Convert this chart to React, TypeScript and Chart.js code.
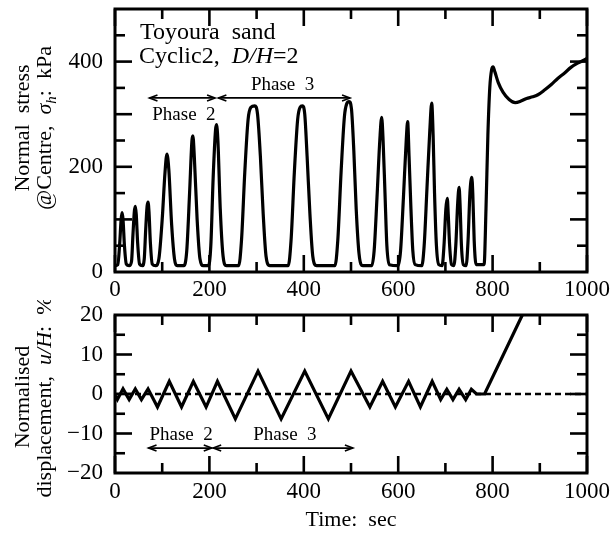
import React, { useEffect, useRef } from 'react';
import { Chart, registerables } from 'chart.js';
Chart.register(...registerables);

// ---------- data ----------
const stressTime = [0, 6, 10, 13, 15, 17, 20, 24, 30, 35, 38, 41, 43, 45, 48, 52, 58, 62, 65, 68, 70, 72, 75, 79, 86, 93, 100, 106, 110, 114, 120, 126, 132, 146, 152, 158, 163, 165, 168, 174, 180, 187, 198, 203, 208, 213, 215, 218, 223, 229, 236, 262, 268, 275, 282, 288, 296, 302, 308, 314, 320, 328, 367, 373, 380, 387, 392, 397, 402, 407, 413, 419, 427, 466, 472, 479, 486, 491, 496, 501, 506, 511, 517, 525, 544, 549, 555, 561, 565, 568, 572, 576, 581, 600, 605, 611, 617, 620, 623, 627, 631, 636, 650, 655, 661, 667, 671, 674, 677, 681, 686, 693, 697, 701, 704, 706, 709, 713, 718, 722, 726, 729, 731, 734, 738, 744, 748, 752, 756, 758, 761, 765, 782, 786, 790, 794, 798, 801, 805, 812, 822, 835, 848, 860, 872, 885, 896, 910, 925, 938, 952, 966, 980, 992, 1000];
const stressValue = [12, 14, 55, 100, 113, 100, 50, 15, 12, 20, 70, 115, 125, 110, 55, 15, 12, 25, 80, 125, 133, 115, 55, 15, 12, 25, 100, 190, 224, 195, 90, 25, 12, 12, 40, 150, 250, 259, 220, 100, 25, 12, 12, 50, 180, 270, 280, 250, 120, 30, 12, 12, 60, 190, 290, 313, 316, 300, 220, 110, 30, 12, 12, 60, 190, 290, 313, 316, 300, 220, 110, 30, 12, 12, 60, 190, 295, 320, 324, 310, 230, 120, 35, 12, 12, 40, 140, 250, 294, 250, 150, 50, 14, 12, 40, 140, 250, 286, 220, 120, 40, 14, 12, 50, 160, 270, 321, 260, 150, 50, 14, 12, 50, 120, 140, 110, 50, 14, 12, 50, 130, 161, 130, 50, 14, 12, 60, 150, 180, 150, 60, 14, 14, 120, 260, 350, 385, 390, 380, 360, 342, 328, 322, 325, 330, 333, 337, 346, 357, 368, 378, 389, 397, 402, 406];

const dispTime = [0, 5, 17, 30, 43, 56, 70, 90, 115, 141, 166, 193, 217, 255, 303, 352, 402, 452, 500, 540, 567, 594, 622, 647, 672, 690, 703, 716, 729, 743, 755, 766, 783, 863];
const dispValue = [-0.3, -1.4, 1.3, -1.4, 1.3, -1.4, 1.3, -3.3, 3.2, -3.3, 3.2, -3.3, 3.2, -6.3, 5.8, -6.3, 5.8, -6.3, 5.8, -3.3, 3.2, -3.3, 3.2, -3.3, 3.2, -1.4, 1.2, -1.4, 1.2, -1.4, 1.2, 0, 0, 20];

const zeroLineTime = [0, 1000];
const zeroLineValue = [0, 0];

const xTickLabels = [0, 200, 400, 600, 800, 1000];
const xMinorTicks = [100, 300, 500, 700, 900];
const stressTickLabels = [0, 200, 400];
const stressMajorTicks = [100, 200, 300, 400];
const stressMinorTicks = [50, 150, 250, 350, 450];
const dispTickLabels = [-20, -10, 0, 10, 20];
const dispMajorTicks = [-10, 0, 10];
const dispMinorTicks = [-15, -5, 5, 15];

// annotation anchors (data coordinates)
const topPhaseArrows = [
  { from: 73, to: 212, y: 331 },
  { from: 219, to: 498, y: 331 },
];
const topPhaseTexts = [
  { text: 'Phase  2', x: 146, y: 289 },
  { text: 'Phase  3', x: 355, y: 346 },
];
const bottomPhaseArrows = [
  { from: 71, to: 205, y: -13.7 },
  { from: 208, to: 504, y: -13.7 },
];
const bottomPhaseTexts = [
  { text: 'Phase  2', x: 140, y: -11.6 },
  { text: 'Phase  3', x: 360, y: -11.6 },
];

const FONT = '"Liberation Serif", "Times New Roman", serif';

type Seg = { t: string; i?: boolean; sub?: boolean };

function drawRich(ctx: CanvasRenderingContext2D, segs: Seg[], x: number, y: number, size: number, rot: number, align: 'center' | 'left') {
  ctx.save();
  ctx.translate(x, y);
  if (rot) ctx.rotate(rot);
  const fontFor = (s: Seg) => `${s.i ? 'italic ' : ''}${s.sub ? Math.round(size * 0.68) : size}px ${FONT}`;
  let total = 0;
  for (const s of segs) {
    ctx.font = fontFor(s);
    total += ctx.measureText(s.t).width;
  }
  let cx = align === 'center' ? -total / 2 : 0;
  ctx.textBaseline = 'alphabetic';
  ctx.fillStyle = '#000';
  for (const s of segs) {
    ctx.font = fontFor(s);
    ctx.fillText(s.t, cx, s.sub ? size * 0.22 : 0);
    cx += ctx.measureText(s.t).width;
  }
  ctx.restore();
}

function arrow(ctx: CanvasRenderingContext2D, x1: number, x2: number, y: number) {
  ctx.beginPath();
  ctx.moveTo(x1, y);
  ctx.lineTo(x2, y);
  ctx.stroke();
  const h = 8, w = 3;
  ctx.beginPath();
  ctx.moveTo(x1 + h, y - w);
  ctx.lineTo(x1, y);
  ctx.lineTo(x1 + h, y + w);
  ctx.moveTo(x2 - h, y - w);
  ctx.lineTo(x2, y);
  ctx.lineTo(x2 - h, y + w);
  ctx.stroke();
}

type DecorCfg = {
  xMajor: number[];
  xMinor: number[];
  yMajor: number[];
  yMinor: number[];
  arrows: { from: number; to: number; y: number }[];
  texts: { text: string; x: number; y: number }[];
  extra: (chart: any) => void;
};

function makeDecor(cfg: DecorCfg) {
  return {
    id: 'decor',
    afterDraw(chart: any) {
      const ctx: CanvasRenderingContext2D = chart.ctx;
      const { left, right, top, bottom } = chart.chartArea;
      const xs = chart.scales.x;
      const ys = chart.scales.y;
      const MAJ = 17, MIN = 10;
      ctx.save();
      ctx.strokeStyle = '#000';
      ctx.lineWidth = 2.6;
      ctx.lineCap = 'butt';
      const seg = (a: number, b: number, c: number, d: number) => {
        ctx.beginPath();
        ctx.moveTo(a, b);
        ctx.lineTo(c, d);
        ctx.stroke();
      };
      cfg.xMajor.forEach((v) => {
        const p = xs.getPixelForValue(v);
        seg(p, bottom, p, bottom - MAJ);
        seg(p, top, p, top + MAJ);
      });
      cfg.xMinor.forEach((v) => {
        const p = xs.getPixelForValue(v);
        seg(p, bottom, p, bottom - MIN);
        seg(p, top, p, top + MIN);
      });
      cfg.yMajor.forEach((v) => {
        const p = ys.getPixelForValue(v);
        seg(left, p, left + MAJ, p);
        seg(right, p, right - MAJ, p);
      });
      cfg.yMinor.forEach((v) => {
        const p = ys.getPixelForValue(v);
        seg(left, p, left + MIN, p);
        seg(right, p, right - MIN, p);
      });
      ctx.lineWidth = 3;
      ctx.strokeRect(left, top, right - left, bottom - top);

      ctx.lineWidth = 1.6;
      cfg.arrows.forEach((a) => {
        arrow(ctx, xs.getPixelForValue(a.from), xs.getPixelForValue(a.to), ys.getPixelForValue(a.y));
      });
      cfg.texts.forEach((t) => {
        drawRich(ctx, [{ t: t.text }], xs.getPixelForValue(t.x), ys.getPixelForValue(t.y), 19, 0, 'center');
      });
      cfg.extra(chart);
      ctx.restore();
    },
  };
}

function baseOptions(yMin: number, yMax: number, yTicks: number[], padTop: number, xAxisH: number, xPad: number) {
  return {
    responsive: false,
    animation: false as const,
    layout: { padding: { left: 0, right: 28, top: padTop, bottom: 0 } },
    plugins: { legend: { display: false }, tooltip: { enabled: false } },
    elements: { point: { radius: 0 } },
    scales: {
      x: {
        type: 'linear' as const,
        min: 0,
        max: 1000,
        grid: { display: false, drawTicks: false },
        border: { display: false },
        afterBuildTicks: (s: any) => {
          s.ticks = xTickLabels.map((v) => ({ value: v }));
        },
        afterFit: (s: any) => {
          s.height = xAxisH;
          s.paddingLeft = 0;
          s.paddingRight = 0;
          s.paddingTop = 0;
          s.paddingBottom = 0;
        },
        ticks: {
          color: '#000',
          padding: xPad,
          maxRotation: 0,
          autoSkip: false,
          font: { family: FONT, size: 23 },
          callback: (v: any) => String(v),
        },
      },
      y: {
        type: 'linear' as const,
        min: yMin,
        max: yMax,
        grid: { display: false, drawTicks: false },
        border: { display: false },
        afterBuildTicks: (s: any) => {
          s.ticks = yTicks.map((v) => ({ value: v }));
        },
        afterFit: (s: any) => {
          s.width = 115;
          s.paddingLeft = 0;
          s.paddingRight = 0;
          s.paddingTop = 0;
          s.paddingBottom = 0;
        },
        ticks: {
          color: '#000',
          padding: 12,
          autoSkip: false,
          font: { family: FONT, size: 23 },
          callback: (v: any) => (v < 0 ? '\u2212' + Math.abs(v) : String(v)),
        },
      },
    },
  };
}

export default function App() {
  const topRef = useRef<HTMLCanvasElement>(null);
  const botRef = useRef<HTMLCanvasElement>(null);

  useEffect(() => {
    const stressData = stressTime.map((t, i) => ({ x: t, y: stressValue[i] }));
    const dispData = dispTime.map((t, i) => ({ x: t, y: dispValue[i] }));
    const zeroData = zeroLineTime.map((t, i) => ({ x: t, y: zeroLineValue[i] }));

    const topChart = new Chart(topRef.current as HTMLCanvasElement, {
      type: 'line',
      data: {
        datasets: [
          {
            data: stressData,
            borderColor: '#000',
            borderWidth: 3.2,
            cubicInterpolationMode: 'monotone',
            borderJoinStyle: 'round',
            fill: false,
          },
        ],
      },
      options: baseOptions(0, 500, stressTickLabels, 9, 28, 4) as any,
      plugins: [
        makeDecor({
          xMajor: xTickLabels,
          xMinor: xMinorTicks,
          yMajor: stressMajorTicks,
          yMinor: stressMinorTicks,
          arrows: topPhaseArrows,
          texts: topPhaseTexts,
          extra: (chart: any) => {
            const ctx = chart.ctx as CanvasRenderingContext2D;
            const left = chart.chartArea.left;
            drawRich(ctx, [{ t: 'Toyoura  sand' }], left + 25, 39, 24, 0, 'left');
            drawRich(ctx, [{ t: 'Cyclic2,  ' }, { t: 'D/H', i: true }, { t: '=2' }], left + 24, 63, 24, 0, 'left');
            const cy = 128;
            drawRich(ctx, [{ t: 'Normal  stress' }], 29, cy, 22, -Math.PI / 2, 'center');
            drawRich(
              ctx,
              [{ t: '@Centre,  ' }, { t: '\u03c3', i: true }, { t: 'h', i: true, sub: true }, { t: ':  kPa' }],
              51,
              cy,
              22,
              -Math.PI / 2,
              'center'
            );
          },
        }),
      ],
    });

    const botChart = new Chart(botRef.current as HTMLCanvasElement, {
      type: 'line',
      data: {
        datasets: [
          {
            data: zeroData,
            borderColor: '#000',
            borderWidth: 2.4,
            borderDash: [6, 4],
            fill: false,
          },
          {
            data: dispData,
            borderColor: '#000',
            borderWidth: 3.2,
            borderJoinStyle: 'miter',
            fill: false,
          },
        ],
      },
      options: baseOptions(-20, 20, dispTickLabels, 15, 65, 5) as any,
      plugins: [
        makeDecor({
          xMajor: xTickLabels,
          xMinor: xMinorTicks,
          yMajor: dispMajorTicks,
          yMinor: dispMinorTicks,
          arrows: bottomPhaseArrows,
          texts: bottomPhaseTexts,
          extra: (chart: any) => {
            const ctx = chart.ctx as CanvasRenderingContext2D;
            const cy = 97;
            drawRich(ctx, [{ t: 'Normalised' }], 29, cy, 22, -Math.PI / 2, 'center');
            drawRich(
              ctx,
              [{ t: 'displacement,  ' }, { t: 'u/H', i: true }, { t: ':  %' }],
              51,
              cy,
              22,
              -Math.PI / 2,
              'center'
            );
            const { left, right } = chart.chartArea;
            drawRich(ctx, [{ t: 'Time:  sec' }], (left + right) / 2, 226, 22, 0, 'center');
          },
        }),
      ],
    });

    return () => {
      topChart.destroy();
      botChart.destroy();
    };
  }, []);

  return (
    <div style={{ position: 'absolute', left: 0, top: 0, width: 615, height: 538, background: '#fff' }}>
      <canvas ref={topRef} width={615} height={300} style={{ position: 'absolute', left: 0, top: 0, width: 615, height: 300 }} />
      <canvas ref={botRef} width={615} height={238} style={{ position: 'absolute', left: 0, top: 300, width: 615, height: 238 }} />
    </div>
  );
}
